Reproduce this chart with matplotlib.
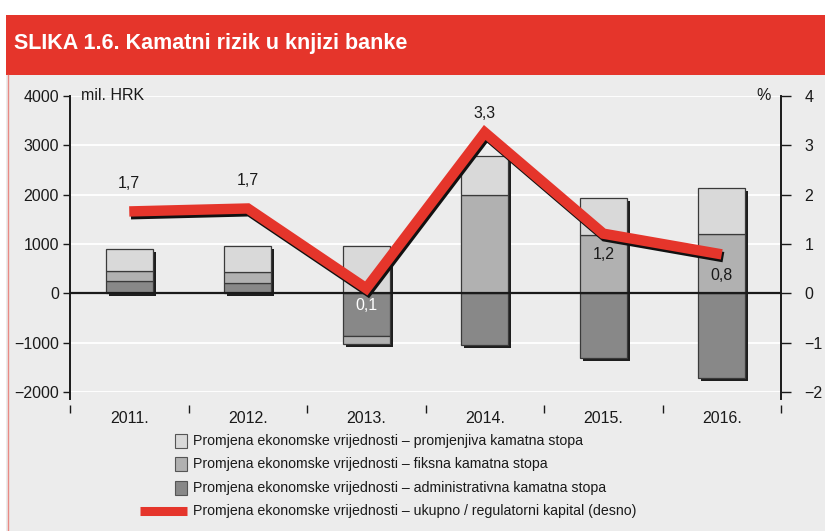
import numpy as np
import matplotlib
matplotlib.use('Agg')
import matplotlib.pyplot as plt
import matplotlib.patheffects as pe
import matplotlib.transforms as mtransforms
from matplotlib.patches import Rectangle
from matplotlib.lines import Line2D

# podaci
godine = ['2011.', '2012.', '2013.', '2014.', '2015.', '2016.']
promjenjiva = [450, 525, 955, 780, 740, 930]
fiksna = [200, 220, -160, 2000, 1185, 1200]
administrativna = [250, 210, -870, -1040, -1310, -1710]
ukupno = [1.66, 1.72, 0.1, 3.26, 1.21, 0.79]
oznake = ['1,7', '1,7', '0,1', '3,3', '1,2', '0,8']

legenda = [
    'Promjena ekonomske vrijednosti – promjenjiva kamatna stopa',
    'Promjena ekonomske vrijednosti – fiksna kamatna stopa',
    'Promjena ekonomske vrijednosti – administrativna kamatna stopa',
    'Promjena ekonomske vrijednosti – ukupno / regulatorni kapital (desno)',
]

# stil
c_light = '#d9d9d9'
c_mid = '#b1b1b1'
c_dark = '#888888'
c_red = '#e5352b'
c_bg = '#ececec'
plt.rcParams['font.family'] = ['Liberation Sans', 'DejaVu Sans']

W, H = 825, 531
fig = plt.figure(figsize=(W / 100, H / 100), dpi=100)
fig.patch.set_facecolor('white')

# pozadina i naslovna traka
fig.add_artist(Rectangle((6 / W, 0), (W - 6) / W, (H - 75) / H, transform=fig.transFigure,
                         facecolor=c_bg, edgecolor='none', zorder=-10))
fig.add_artist(Rectangle((6 / W, (H - 75) / H), (W - 6) / W, 60 / H, transform=fig.transFigure,
                         facecolor=c_red, edgecolor='none', zorder=-9))
fig.add_artist(Line2D([8 / W, 8 / W], [0, (H - 75) / H], transform=fig.transFigure,
                      color='#e88a84', lw=1, zorder=-8))
fig.text(14 / W, (H - 44) / H, 'SLIKA 1.6. Kamatni rizik u knjizi banke', color='white',
         fontsize=15.5, fontweight='bold', fontstretch='condensed', va='center', ha='left',
         family=['Liberation Sans Narrow', 'DejaVu Sans Condensed', 'Liberation Sans'])

x0, x1, ytop, ybot = 70, 781, 96, 392
ax = fig.add_axes([x0 / W, (H - ybot) / H, (x1 - x0) / W, (ybot - ytop) / H])
ax.set_facecolor(c_bg)
ax.set_xlim(-0.5, 5.5)
ax.set_ylim(-2000, 4000)

x = np.arange(len(godine))
width = 0.4

# sjene stupaca
sjena = mtransforms.offset_copy(ax.transData, fig=fig, x=3, y=-3, units='dots')
pos_tot = np.zeros(len(x))
neg_tot = np.zeros(len(x))
for serija in [administrativna, fiksna, promjenjiva]:
    v = np.array(serija, dtype=float)
    pos_tot += np.where(v > 0, v, 0)
    neg_tot += np.where(v < 0, v, 0)
ax.bar(x, pos_tot - neg_tot, width, bottom=neg_tot, color='#1e1e1e', transform=sjena, zorder=2)

# stupci
bottom_pos = np.zeros(len(x))
bottom_neg = np.zeros(len(x))
for serija, boja in [(administrativna, c_dark), (fiksna, c_mid), (promjenjiva, c_light)]:
    v = np.array(serija, dtype=float)
    b = np.where(v >= 0, bottom_pos, bottom_neg)
    ax.bar(x, v, width, bottom=b, color=boja, edgecolor='#3a3a3a', linewidth=0.9, zorder=3)
    bottom_pos += np.where(v > 0, v, 0)
    bottom_neg += np.where(v < 0, v, 0)

ax.axhline(0, color='#1a1a1a', lw=1.6, zorder=4)

# osi
ax.set_yticks(range(-2000, 4001, 1000))
ax.yaxis.grid(True, color='white', lw=1.3)
ax.set_axisbelow(True)
for s in ['top', 'right']:
    ax.spines[s].set_visible(False)
ax.spines['left'].set_linewidth(1.4)
ax.spines['left'].set_color('#1a1a1a')
ax.spines['left'].set_bounds(-2150, 4000)
ax.spines['bottom'].set_position(('outward', 9))
ax.spines['bottom'].set_visible(False)
ax.tick_params(axis='y', direction='out', length=5, width=1, pad=3, labelsize=11.5, colors='#1a1a1a')
ax.set_xticks(x)
ax.set_xticklabels(godine)
ax.set_xticks(np.arange(-0.5, 6, 1), minor=True)
ax.tick_params(axis='x', which='major', length=0, pad=5, labelsize=11.5, colors='#1a1a1a')
ax.tick_params(axis='x', which='minor', direction='out', length=6, width=1, color='#1a1a1a')
ax.text(0.015, 1.0, 'mil. HRK', transform=ax.transAxes, fontsize=11.5, va='center', ha='left', color='#1a1a1a')
ax.set_clip_on(False)

ax2 = ax.twinx()
ax2.set_ylim(-2, 4)
ax2.set_yticks(range(-2, 5))
ax2.patch.set_visible(False)
for s in ['top', 'left', 'bottom']:
    ax2.spines[s].set_visible(False)
ax2.spines['right'].set_linewidth(1.4)
ax2.spines['right'].set_color('#1a1a1a')
ax2.spines['right'].set_bounds(-2.15, 4)
ax2.tick_params(axis='y', direction='out', length=7, width=1, pad=10, labelsize=11.5, colors='#1a1a1a')
ax2.text(0.985, 1.0, '%', transform=ax2.transAxes, fontsize=11.5, va='center', ha='right', color='#1a1a1a')

ax2.plot(x, ukupno, color=c_red, lw=7.5, solid_joinstyle='miter', solid_capstyle='butt', zorder=5,
         path_effects=[pe.SimpleLineShadow(offset=(1.2, -2), shadow_color='#111111', alpha=1),
                       pe.Normal()])

pomak = [20, 20, -12, 14, -15, -15]
boje_oznaka = ['#1a1a1a', '#1a1a1a', 'white', '#1a1a1a', '#1a1a1a', '#1a1a1a']
for xi, yi, t, d, c in zip(x, ukupno, oznake, pomak, boje_oznaka):
    ax2.annotate(t, (xi, yi), xytext=(0, d), textcoords='offset points', ha='center',
                 va='center', fontsize=11.5, color=c, zorder=6)

# legenda
redovi = [441, 464, 488, 511]
for i, (tekst, yy) in enumerate(zip(legenda, redovi)):
    if i < 3:
        boja = [c_light, c_mid, c_dark][i]
        fig.add_artist(Rectangle((175 / W, (H - yy - 7) / H), 12 / W, 14 / H, transform=fig.transFigure,
                                 facecolor=boja, edgecolor='#555555', lw=0.8))
    else:
        fig.add_artist(Line2D([140 / W, 187 / W], [(H - yy) / H] * 2, transform=fig.transFigure,
                              color=c_red, lw=6.5, solid_capstyle='butt'))
    fig.text(193 / W, (H - yy) / H, tekst, fontsize=10.2, va='center', ha='left', color='#1a1a1a')

fig.savefig('out.png', dpi=100)
